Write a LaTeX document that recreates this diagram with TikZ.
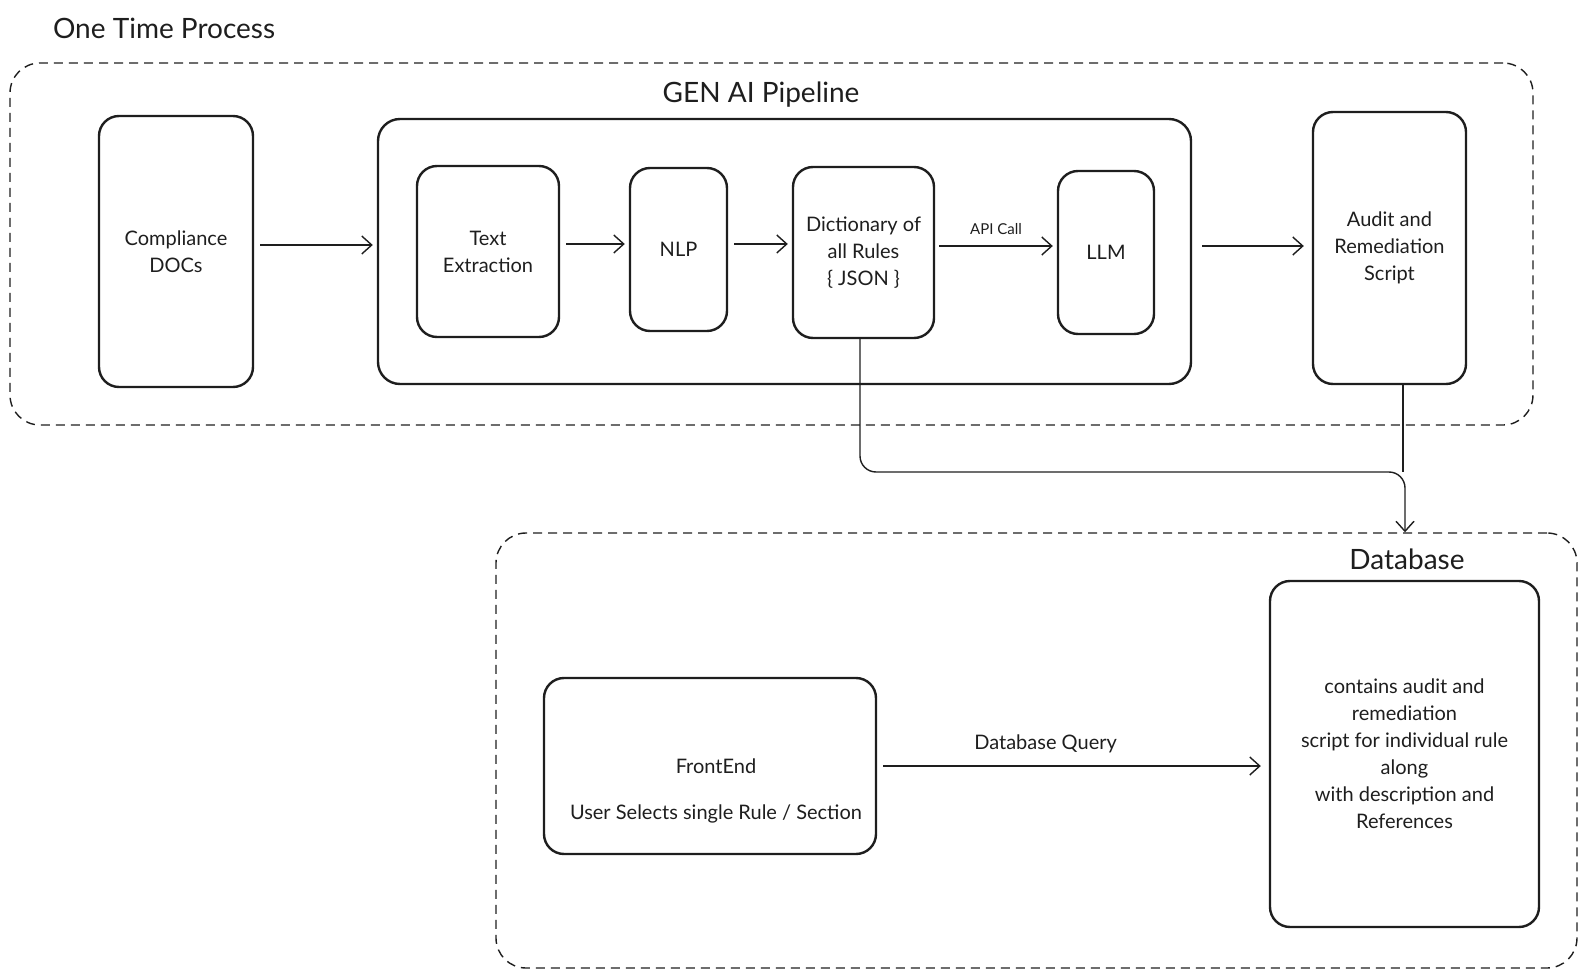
\documentclass[tikz,border=0pt]{standalone}
\usepackage{fontspec}
\setmainfont{Lato}
\usetikzlibrary{arrows.meta,positioning}
\definecolor{inkdark}{RGB}{30,30,30}

\begin{document}
\begin{tikzpicture}[
  x=0.5pt, y=-0.5pt,
  font=\fontsize{10}{13.5}\selectfont, text=inkdark,
  stage/.style={draw=inkdark, line width=1.2pt, rounded corners=10pt,
    align=center, inner sep=0pt},
  group/.style={draw=inkdark, line width=0.7pt, rounded corners=15pt,
    dash pattern=on 4.5pt off 3pt, inner sep=0pt},
  heading/.style={font=\fontsize{14}{17}\selectfont},
  arr/.style={-{Straight Barb[length=5pt, width=9pt]}, line width=0.7pt, draw=inkdark}
]
\useasboundingbox (0,0) rectangle (1587,979);

% dashed groups
\node[group, minimum width=761.5pt, minimum height=181pt] (onetime) at (771.5,244) {};
\node[group, minimum width=540.5pt, minimum height=217.5pt] (dbarea) at (1036.5,750.5) {};
\node[heading, anchor=west] (ottitle) at (46,28) {One Time Process};

% one time process
\node[stage, minimum width=77pt, minimum height=135.5pt] (docs) at (176,251.5) {Compliance\\DOCs};
\node[stage, rounded corners=11pt, minimum width=406.5pt, minimum height=132.5pt] (pipe) at (784.5,251.5) {};
\node[heading] (pipetitle) at (761,95) {GEN AI Pipeline};
\node[stage, minimum width=71pt, minimum height=85.5pt] (textex) at (488,251.5) {Text\\Extraction};
\node[stage, minimum width=48.5pt, minimum height=81.5pt] (nlp) at (678.5,249.5) {NLP};
\node[stage, minimum width=70.5pt, minimum height=85.5pt] (dict) at (863.5,252.5) {Dictionary of\\all Rules\\\{ JSON \}};
\node[stage, minimum width=48pt, minimum height=81.5pt] (llm) at (1106,252.5) {LLM};
\node[stage, minimum width=76.5pt, minimum height=136pt] (audit) at (1389.5,248) {Audit and\\Remediation\\Script};

% database
\node[heading] (dbtitle) at (1407,559) {Database};
\node[stage, minimum width=134.5pt, minimum height=173pt] (dbbox) at (1404.5,754) {contains audit and\\remediation\\script for individual rule\\along\\with description and\\References};
\node[stage, minimum width=166pt, minimum height=88pt] (front) at (710,766) {};
\node[align=center] (fronttext) at (716,791) {FrontEnd\\[9.5pt]User Selects single Rule / Section};

% flow
\draw[arr, shorten <=3pt, shorten >=2pt] (docs.east |- 0,245) -- (pipe.west |- 0,245);
\draw[arr, shorten <=3pt, shorten >=2pt] (textex.east |- 0,244) -- (nlp.west |- 0,244);
\draw[arr, shorten <=3pt, shorten >=2pt] (nlp.east |- 0,244) -- (dict.west |- 0,244);
\draw[arr, shorten <=2pt, shorten >=2pt] (dict.east |- 0,246) -- node[above=2pt, font=\fontsize{7.5}{9}\selectfont] (apilabel) {API Call} (llm.west |- 0,246);
\draw[arr, shorten <=5pt, shorten >=4pt] (pipe.east |- 0,246) -- (audit.west |- 0,246);

\coordinate (jn) at (1405,472);
\draw[arr, rounded corners=8pt] (dict.south -| 860,0) -- (860,472) -- (jn) -- (jn |- dbarea.north);
\draw[line width=0.7pt, draw=inkdark] (audit.south -| 1403,0) -- (1403,472);

\draw[arr, shorten <=3pt, shorten >=4pt] (front.east) -- node[pos=0.43, above=3pt] (querylabel) {Database Query} (front.east -| dbbox.west);
\end{tikzpicture}
\end{document}
